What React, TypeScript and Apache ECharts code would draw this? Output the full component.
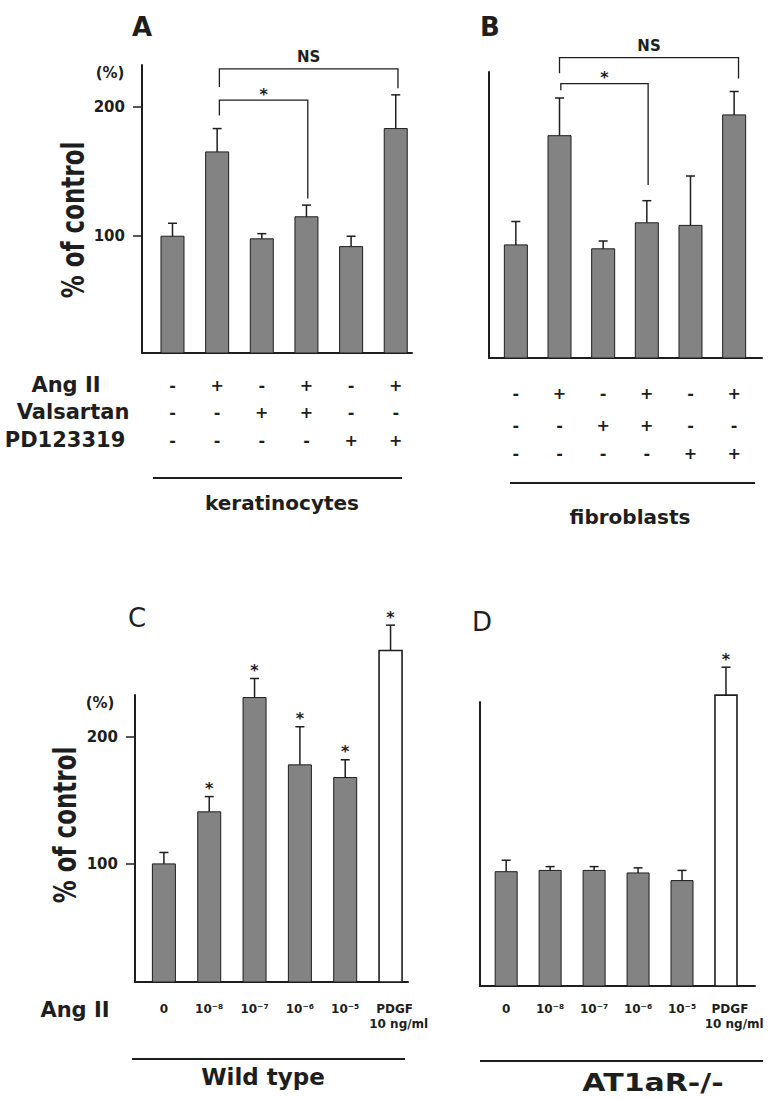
import React, { useEffect, useRef } from 'react';
import * as echarts from 'echarts';

const FONT = "'DejaVu Sans', 'Liberation Sans', sans-serif";
const INK = '#1e1e1e';
const BAR_GRAY = '#838383';

// ---------------- data ----------------
const barPositions = [1, 2, 3, 4, 5, 6];

// Panel A – keratinocytes (% of control, mean and upper SEM)
const keratinocyteMean = [100, 165, 98, 115, 92, 183];
const keratinocyteSem = [10, 18, 4, 9, 8, 26];

// Panel B – fibroblasts
const fibroblastMean = [97, 181, 94, 114, 112, 197];
const fibroblastSem = [18, 29, 6, 17, 38, 18];

// Panel C – wild type
const wildTypeMean = [100, 141, 231, 178, 168, 268];
const wildTypeSem = [9, 12, 15, 30, 14, 20];
const wildTypeSignificant = [false, true, true, true, true, true];

// Panel D – AT1aR-/-
const knockoutMean = [97, 98, 98, 96, 90, 236];
const knockoutSem = [9, 3, 3, 4, 8, 22];
const knockoutSignificant = [false, false, false, false, false, true];

const isPDGF = [false, false, false, false, false, true];

// treatment table (A, B)
const treatmentNames = ['Ang II', 'Valsartan', 'PD123319'];
const angII = ['-', '+', '-', '+', '-', '+'];
const valsartan = ['-', '-', '+', '+', '-', '-'];
const pd123319 = ['-', '-', '-', '-', '+', '+'];
const treatmentRows = [angII, valsartan, pd123319];

// dose labels (C, D)
const doseLabels = ['0', '10\u207B\u2078', '10\u207B\u2077', '10\u207B\u2076', '10\u207B\u2075', 'PDGF\n  10 ng/ml'];

const yTickValues = [100, 200];

// comparison brackets: [from bar, to bar, top value, left end value, right end value, label]
const bracketsA: any[] = [
  [2.05, 6.05, 229, 215, 214, 'NS'],
  [2.05, 4.03, 205, 193, 129, '*'],
];
const bracketsB: any[] = [
  [2.0, 6.1, 241, 229, 225, 'NS'],
  [2.03, 4.03, 221, 216, 143, '*'],
];

// ---------------- layout ----------------
const panels: any[] = [
  {
    key: 'A', mean: keratinocyteMean, sem: keratinocyteSem, sig: null, brackets: bracketsA,
    grid: { left: 142, top: 65, width: 270, height: 288 }, x: [0.317, 6.364], y: [10, 232],
    ticks: true, barWidth: 23, labels: 'treatment', rowOffsets: [32, 59, 87],
  },
  {
    key: 'B', mean: fibroblastMean, sem: fibroblastSem, sig: null, brackets: bracketsB,
    grid: { left: 489, top: 72, width: 273, height: 286 }, x: [0.385, 6.638], y: [10, 230],
    ticks: false, barWidth: 23, labels: 'treatment', rowOffsets: [35, 67, 95],
  },
  {
    key: 'C', mean: wildTypeMean, sem: wildTypeSem, sig: wildTypeSignificant, brackets: [],
    grid: { left: 135, top: 695, width: 273, height: 287 }, x: [0.3625, 6.385], y: [7, 233],
    ticks: true, barWidth: 23, labels: 'dose', doseOffset: 19,
  },
  {
    key: 'D', mean: knockoutMean, sem: knockoutSem, sig: knockoutSignificant, brackets: [],
    grid: { left: 480, top: 702, width: 275, height: 284 }, x: [0.4045, 6.66], y: [7, 230.6],
    ticks: false, barWidth: 22, labels: 'dose', doseOffset: 15,
  },
];

const textStyle = (text: string, size: number, bold = true, extra: any = {}) => ({
  text,
  fill: INK,
  fontSize: size,
  fontFamily: FONT,
  fontWeight: bold ? 'bold' : 'normal',
  align: 'center',
  verticalAlign: 'middle',
  ...extra,
});

function panelSeries(p: any, i: number) {
  const yMin = p.y[0];
  const out: any[] = [];

  // bars
  out.push({
    type: 'custom',
    name: `${p.key} bars`,
    xAxisIndex: i,
    yAxisIndex: i,
    clip: false,
    z: 3,
    encode: { x: 0, y: 1 },
    data: p.mean.map((v: number, k: number) => [barPositions[k], v]),
    renderItem: (params: any, api: any) => {
      const x = api.value(0);
      const v = api.value(1);
      const top = api.coord([x, v]);
      const base = api.coord([x, yMin]);
      const open = p.labels === 'dose' && isPDGF[params.dataIndex];
      return {
        type: 'rect',
        shape: { x: top[0] - p.barWidth / 2, y: top[1], width: p.barWidth, height: base[1] - top[1] },
        style: { fill: open ? '#ffffff' : BAR_GRAY, stroke: INK, lineWidth: open ? 1.6 : 1 },
      };
    },
  });

  // error bars (upper whisker)
  out.push({
    type: 'custom',
    name: `${p.key} error`,
    xAxisIndex: i,
    yAxisIndex: i,
    clip: false,
    z: 4,
    encode: { x: 0, y: 1 },
    data: p.mean.map((v: number, k: number) => [barPositions[k], v, p.sem[k]]),
    renderItem: (params: any, api: any) => {
      const x = api.value(0);
      const m = api.value(1);
      const e = api.value(2);
      const base = api.coord([x, m]);
      const top = api.coord([x, m + e]);
      const st = { stroke: INK, lineWidth: 1.5 };
      return {
        type: 'group',
        children: [
          { type: 'line', shape: { x1: base[0], y1: base[1], x2: top[0], y2: top[1] }, style: st },
          { type: 'line', shape: { x1: top[0] - 4.5, y1: top[1], x2: top[0] + 4.5, y2: top[1] }, style: st },
        ],
      };
    },
  });

  // significance stars
  if (p.sig) {
    out.push({
      type: 'custom',
      name: `${p.key} stars`,
      xAxisIndex: i,
      yAxisIndex: i,
      clip: false,
      z: 4,
      encode: { x: 0, y: 1 },
      data: p.mean
        .map((v: number, k: number) => [barPositions[k], v + p.sem[k], p.sig[k] ? 1 : 0])
        .filter((d: number[]) => d[2] === 1),
      renderItem: (params: any, api: any) => {
        const c = api.coord([api.value(0), api.value(1)]);
        return { type: 'text', x: c[0], y: c[1] - 8, style: textStyle('*', 16) };
      },
    });
  }

  // brackets
  if (p.brackets.length) {
    out.push({
      type: 'custom',
      name: `${p.key} brackets`,
      xAxisIndex: i,
      yAxisIndex: i,
      clip: false,
      z: 4,
      encode: { x: 0, y: 1 },
      data: p.brackets.map((b: any[]) => [b[0], b[2]]),
      renderItem: (params: any, api: any) => {
        const [x1, x2, yTop, yL, yR, label] = p.brackets[params.dataIndex];
        const a = api.coord([x1, yL]);
        const b = api.coord([x1, yTop]);
        const c = api.coord([x2, yTop]);
        const d = api.coord([x2, yR]);
        const mid = (b[0] + c[0]) / 2;
        return {
          type: 'group',
          children: [
            { type: 'polyline', shape: { points: [a, b, c, d] }, style: { stroke: INK, lineWidth: 1.3, fill: null } },
            {
              type: 'text',
              x: mid,
              y: b[1] - (label === '*' ? 6 : 12),
              style: textStyle(label, label === '*' ? 16 : 15),
            },
          ],
        };
      },
    });
  }

  // category labels under the axis
  out.push({
    type: 'custom',
    name: `${p.key} labels`,
    xAxisIndex: i,
    yAxisIndex: i,
    clip: false,
    z: 4,
    encode: { x: 0, y: 1 },
    data: barPositions.map((x) => [x, yMin]),
    renderItem: (params: any, api: any) => {
      const c = api.coord([api.value(0), yMin]);
      const k = params.dataIndex;
      if (p.labels === 'treatment') {
        return {
          type: 'group',
          children: treatmentRows.map((row, r) => ({
            type: 'text',
            x: c[0],
            y: c[1] + p.rowOffsets[r],
            style: textStyle(row[k], 16),
          })),
        };
      }
      const last = k === doseLabels.length - 1;
      return {
        type: 'text',
        x: c[0] + (last ? 4 : 0),
        y: c[1] + p.doseOffset,
        style: textStyle(doseLabels[k], 12, true, { verticalAlign: 'top', lineHeight: 15, align: last ? 'center' : 'center' }),
      };
    },
  });

  return out;
}

function buildOption() {
  const grids = panels.map((p) => ({ ...p.grid, containLabel: false, outerBoundsMode: 'none' }));
  const xAxes = panels.map((p, i) => ({
    type: 'value',
    gridIndex: i,
    min: p.x[0],
    max: p.x[1],
    axisLine: { show: true, onZero: false, lineStyle: { color: INK, width: 2 } },
    axisTick: { show: false },
    axisLabel: { show: false },
    splitLine: { show: false },
  }));
  const yAxes = panels.map((p, i) => ({
    type: 'value',
    gridIndex: i,
    min: p.y[0],
    max: p.y[1],
    axisLine: { show: true, onZero: false, lineStyle: { color: INK, width: 2 } },
    axisTick: { show: p.ticks, customValues: yTickValues, length: 9, lineStyle: { color: INK, width: 1.5 } },
    axisLabel: {
      show: p.ticks,
      customValues: yTickValues,
      margin: 17,
      fontSize: 15,
      fontWeight: 'bold',
      fontFamily: FONT,
      color: INK,
    },
    splitLine: { show: false },
  }));

  const series = panels.flatMap((p, i) => panelSeries(p, i));

  const g = (x: number, y: number, style: any, extra: any = {}) => ({ type: 'text', x, y, style, ...extra });
  const hline = (x1: number, x2: number, y: number) => ({
    type: 'line',
    shape: { x1, y1: y, x2, y2: y },
    style: { stroke: INK, lineWidth: 2 },
  });

  const elements: any[] = [
    g(142, 27, textStyle('A', 26)),
    g(490, 27, textStyle('B', 26)),
    g(137, 618, textStyle('C', 26, false)),
    g(482, 622, textStyle('D', 26, false)),
    g(110, 73, textStyle('(%)', 15)),
    g(100, 703, textStyle('(%)', 15)),
    g(73, 220, textStyle('% of control', 23), { rotation: Math.PI / 2, scaleY: 1.35 }),
    g(65, 825, textStyle('% of control', 23), { rotation: Math.PI / 2, scaleY: 1.35 }),
    g(66, 385, textStyle(treatmentNames[0], 21)),
    g(73, 412, textStyle(treatmentNames[1], 21)),
    g(65, 440, textStyle(treatmentNames[2], 21)),
    hline(153, 402, 478),
    hline(510, 755, 483),
    g(282, 503, textStyle('keratinocytes', 20)),
    g(630, 517, textStyle('fibroblasts', 20)),
    g(75, 1010, textStyle('Ang II', 21)),
    hline(132, 405, 1059),
    hline(480, 763, 1061),
    g(263, 1077, textStyle('Wild type', 23)),
    g(653, 1082, textStyle('AT1aR-/-', 25), { scaleX: 1.2 }),
  ];

  return {
    animation: false,
    backgroundColor: '#ffffff',
    grid: grids,
    xAxis: xAxes,
    yAxis: yAxes,
    series,
    graphic: { elements },
  };
}

export default function App() {
  const ref = useRef<HTMLDivElement>(null);
  useEffect(() => {
    if (!ref.current) return;
    const chart = echarts.init(ref.current, null, { renderer: 'svg' });
    chart.setOption(buildOption() as any);
    return () => chart.dispose();
  }, []);
  return (
    <div
      ref={ref}
      style={{ position: 'absolute', left: 0, top: 0, width: 776, height: 1100, background: '#ffffff' }}
    />
  );
}
